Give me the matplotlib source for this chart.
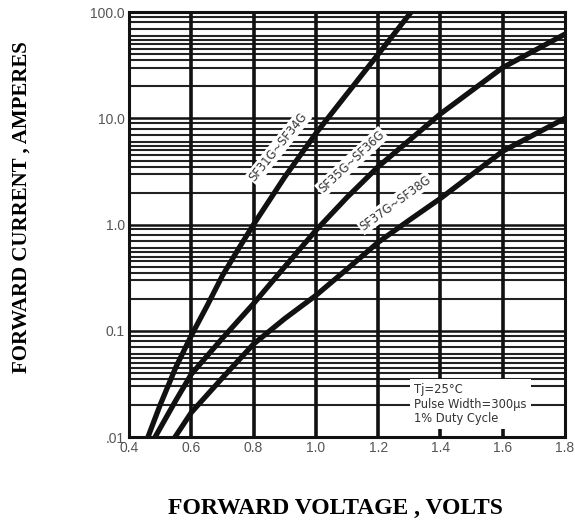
import numpy as np
import matplotlib
matplotlib.use('Agg')
import matplotlib.pyplot as plt
from matplotlib.ticker import FixedLocator, NullFormatter

# forward voltage (V) vs forward current (A)
v_sf31 = [0.461, 0.50, 0.55, 0.60, 0.65, 0.70, 0.75, 0.80, 0.90, 1.00, 1.10, 1.20, 1.306]
i_sf31 = [0.01, 0.02, 0.045, 0.09, 0.17, 0.33, 0.58, 1.0, 2.8, 7.2, 17, 40, 100]

v_sf35 = [0.484, 0.55, 0.60, 0.70, 0.80, 0.90, 1.00, 1.10, 1.20, 1.40, 1.60, 1.80]
i_sf35 = [0.01, 0.022, 0.039, 0.085, 0.18, 0.40, 0.88, 1.8, 3.5, 11, 30, 62]

v_sf37 = [0.548, 0.60, 0.70, 0.80, 0.90, 1.00, 1.10, 1.20, 1.30, 1.40, 1.60, 1.80]
i_sf37 = [0.01, 0.017, 0.036, 0.075, 0.13, 0.215, 0.38, 0.68, 1.1, 1.76, 4.9, 10]

curve_labels = ['SF31G~SF34G', 'SF35G~SF36G', 'SF37G~SF38G']
label_pos = [(0.88, 5.4), (1.115, 3.9), (1.255, 1.6)]
label_rot = [51, 43, 36]

x_ticks = [0.4, 0.6, 0.8, 1.0, 1.2, 1.4, 1.6, 1.8]
x_ticklabels = ['0.4', '0.6', '0.8', '1.0', '1.2', '1.4', '1.6', '1.8']
y_ticks = [0.01, 0.1, 1, 10, 100]
y_ticklabels = ['.01', '0.1', '1.0', '10.0', '100.0']
minor_steps = [2, 3, 3.5, 4, 4.5, 5, 5.5, 6, 7, 8, 9]

fig = plt.figure(figsize=(5.75, 5.24), dpi=100)
ax = fig.add_axes([0.2243, 0.166, 0.7583, 0.811])
ax.set_yscale('log')
ax.set_xlim(0.4, 1.8)
ax.set_ylim(0.01, 100)

# grid: thick major, dense horizontal minor
minor = [m * 10.0 ** e for e in range(-2, 2) for m in minor_steps]
for y in minor:
    ax.axhline(y, color='#222222', lw=1.5, zorder=1)
for y in y_ticks[1:-1]:
    ax.axhline(y, color='#111111', lw=1.8, zorder=1)
for x in x_ticks[1:-1]:
    ax.axvline(x, color='#111111', lw=2.6, zorder=1)

ax.plot(v_sf31, i_sf31, color='#111111', lw=3.8, zorder=3)
ax.plot(v_sf35, i_sf35, color='#111111', lw=3.8, zorder=3)
ax.plot(v_sf37, i_sf37, color='#111111', lw=3.8, zorder=3)

for txt, (x, y), r in zip(curve_labels, label_pos, label_rot):
    ax.text(x, y, txt, rotation=r, ha='center', va='center', fontsize=8.3,
            family='DejaVu Sans', color='#333333', zorder=4,
            bbox=dict(facecolor='white', edgecolor='none', pad=1.2))

ax.text(1.316, 0.032, 'Tj=25°C\nPulse Width=300μs\n1% Duty Cycle',
        fontsize=8.3, family='DejaVu Sans', color='#333333', va='top',
        ha='left', linespacing=1.15, zorder=4,
        bbox=dict(facecolor='white', edgecolor='none', pad=3))

ax.xaxis.set_major_locator(FixedLocator(x_ticks))
ax.set_xticklabels(x_ticklabels)
ax.yaxis.set_major_locator(FixedLocator(y_ticks))
ax.set_yticklabels(y_ticklabels)
ax.yaxis.set_minor_locator(FixedLocator([]))
ax.yaxis.set_minor_formatter(NullFormatter())
ax.tick_params(length=0, pad=3, labelsize=10, labelcolor='#555555')
for lbl in ax.get_xticklabels() + ax.get_yticklabels():
    lbl.set_family('Liberation Sans')

for s in ax.spines.values():
    s.set_linewidth(2.2)
    s.set_color('#111111')

fig.text(0.037, 0.605, 'FORWARD CURRENT , AMPERES', rotation=90, ha='center',
         va='center', fontsize=15, fontweight='bold', family='Liberation Serif')
fig.text(0.583, 0.03, 'FORWARD VOLTAGE , VOLTS', ha='center', va='center',
         fontsize=17, fontweight='bold', family='Liberation Serif')

fig.savefig('out.png', dpi=100)
